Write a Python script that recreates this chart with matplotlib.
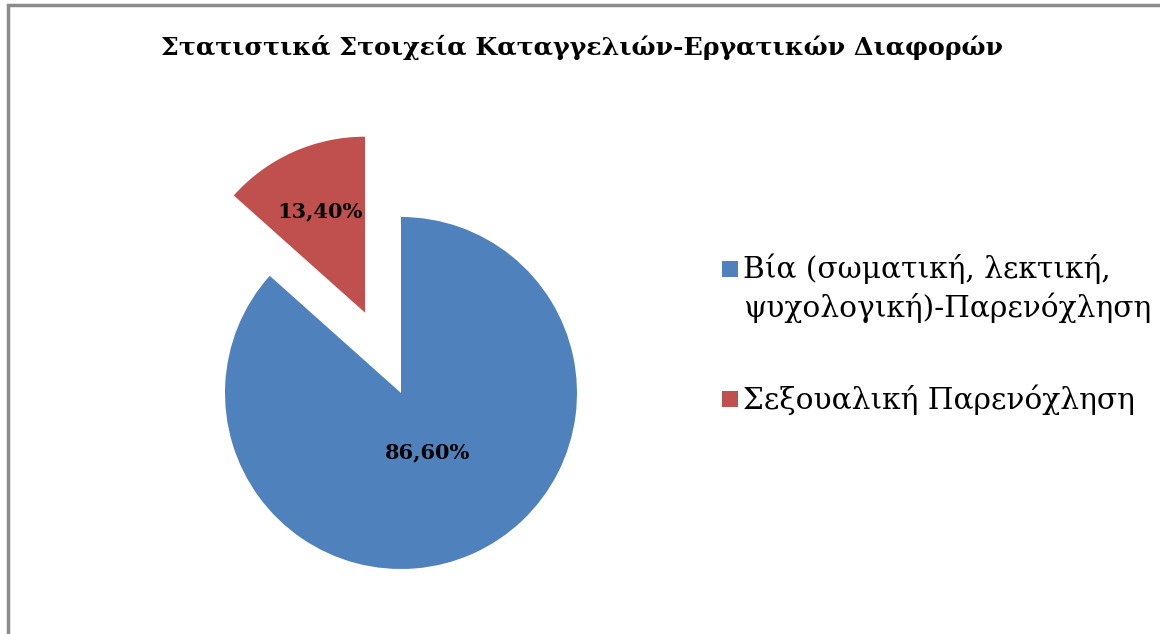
import numpy as np
import matplotlib

matplotlib.use("Agg")
import matplotlib.pyplot as plt
from matplotlib.legend_handler import HandlerPatch
from matplotlib.patches import Rectangle

# Data
categories = [
    "Βία (σωματική, λεκτική,\nψυχολογική)-Παρενόχληση",
    "Σεξουαλική Παρενόχληση",
]
shares = [86.6, 13.4]
colors = ["#4F81BD", "#C0504D"]
explode = [0.0, 0.5]
label_dist = [0.37, 0.63]

TITLE = "Στατιστικά Στοιχεία Καταγγελιών-Εργατικών Διαφορών"

plt.rcParams["font.family"] = ["DejaVu Serif"]

W, H = 1160, 634
LINESP = 1.33
fig = plt.figure(figsize=(W / 100, H / 100), dpi=100)

# gray outer frame (chart area border)
fig.patches.append(
    Rectangle((8 / W, -0.01), 1.1, 1 - 5 / H + 0.01, transform=fig.transFigure,
              fill=False, edgecolor="#8C8C8C", linewidth=2.5)
)

fig.text(582 / W, 1 - 47 / H, TITLE, ha="center", va="center",
         fontsize=18.2, fontweight="bold")

# pie axes: centre at (401, 393) px, radius 176 px
size = 600
cx, cy = 401, H - 393
ax = fig.add_axes([(cx - size / 2) / W, (cy - size / 2) / H, size / W, size / H])

wedges, _ = ax.pie(shares, colors=colors, explode=explode, startangle=90,
                   counterclock=False, radius=1.0)
lim = size / 2 / 176
ax.set_xlim(-lim, lim)
ax.set_ylim(-lim, lim)
ax.set_aspect("equal")
ax.axis("off")

for w, v, d in zip(wedges, shares, label_dist):
    w.set_clip_on(False)
    ang = np.deg2rad((w.theta1 + w.theta2) / 2)
    x0, y0 = w.center
    ax.text(x0 + d * np.cos(ang), y0 + d * np.sin(ang),
            f"{v:.2f}%".replace(".", ","), ha="center", va="center",
            fontsize=15, fontweight="bold")


def top_square(legend, orig_handle, xdescent, ydescent, width, height, fontsize):
    # keep the square beside the first line of a wrapped label
    n = orig_handle.get_label().count("\n")
    side = 0.55 * fontsize
    shift = n * 0.5 * fontsize * LINESP
    return Rectangle((width - side, (height - side) / 2 + shift), side, side)


handles = [Rectangle((0, 0), 1, 1, facecolor=c, label=l) for c, l in zip(colors, categories)]
leg = fig.legend(handles=handles, loc="upper left", bbox_to_anchor=(688 / W, 1 - 227 / H),
                 frameon=False, fontsize=21.3, handlelength=0.8, handletextpad=0.15,
                 labelspacing=2.1,
                 handler_map={Rectangle: HandlerPatch(patch_func=top_square)})
for t in leg.get_texts():
    t.set_linespacing(LINESP)

fig.savefig("out.png", dpi=100)
